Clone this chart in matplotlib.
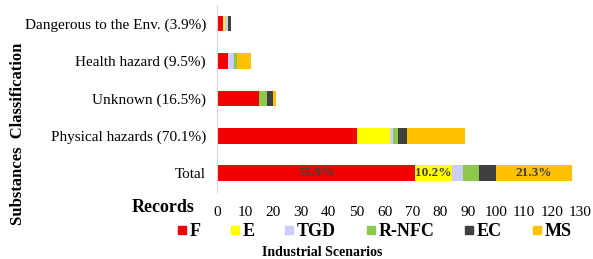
import numpy as np
import matplotlib.pyplot as plt
from matplotlib.lines import Line2D

plt.rcParams['font.family'] = ['Liberation Serif', 'DejaVu Serif']

# Data (records per industrial scenario)
categories = ['Total', 'Physical hazards (70.1%)', 'Unknown (16.5%)',
              'Health hazard (9.5%)', 'Dangerous to the Env. (3.9%)']
scenarios = ['F', 'E', 'TGD', 'R-NFC', 'EC', 'MS']
F = [71, 50, 15, 4, 2]
E = [13, 12, 0, 0, 1]
TGD = [4, 1, 0, 2, 1]
RNFC = [6, 2, 3, 1, 0]
EC = [6, 3, 2, 0, 1]
MS = [27, 21, 1, 5, 0]
total_labels = {'F': '55.9%', 'E': '10.2%', 'MS': '21.3%'}
colors = ['#F00000', '#FFFF00', '#CCCCFF', '#8CC84B', '#404040', '#FFC000']

series = [F, E, TGD, RNFC, EC, MS]

fig = plt.figure(figsize=(5.93, 2.59), dpi=100)
ax = fig.add_axes([0.366, 0.259, 0.612, 0.722])

y = np.arange(len(categories))
left = np.zeros(len(categories))
for name, vals, c in zip(scenarios, series, colors):
    vals = np.array(vals, dtype=float)
    ax.barh(y, vals, left=left, height=0.42, color=c)
    if name in total_labels:
        ax.text(left[0] + vals[0] / 2, y[0], total_labels[name], ha='center',
                va='center', fontsize=9.5, fontweight='bold', color='#404040')
    left += vals

ax.set_yticks(y)
ax.set_yticklabels(categories, fontsize=11)
ax.set_ylim(-0.5, len(categories) - 0.5)
ax.set_xlim(0, 130)
ax.set_xticks(np.arange(0, 131, 10))
ax.tick_params(axis='x', labelsize=11, length=0, pad=10)
ax.tick_params(axis='y', length=0, pad=8)
for s in ['top', 'right', 'bottom']:
    ax.spines[s].set_visible(False)
ax.spines['left'].set_color('#D9D9D9')

fig.text(163 / 593, 1 - 208 / 259, 'Records', ha='center', va='center',
         fontsize=13, fontweight='bold')
fig.text(18 / 593, 1 - 134 / 259, 'Substances  Classification', ha='center',
         va='center', rotation=90, fontsize=12, fontweight='bold')
fig.text(322 / 593, 1 - 252 / 259, 'Industrial Scenarios', ha='center',
         va='center', fontsize=10, fontweight='bold')

handles = [Line2D([], [], marker='s', linestyle='none', markersize=6,
                  markerfacecolor=c, markeredgecolor=c) for c in colors]
fig.legend(handles, scenarios, ncol=6, loc='center',
           bbox_to_anchor=(374 / 593, 1 - 232 / 259), frameon=False,
           prop={'size': 13, 'weight': 'bold'}, handletextpad=0.15,
           columnspacing=1.65, handlelength=0.55, borderpad=0)

fig.savefig('out.png', dpi=100)
